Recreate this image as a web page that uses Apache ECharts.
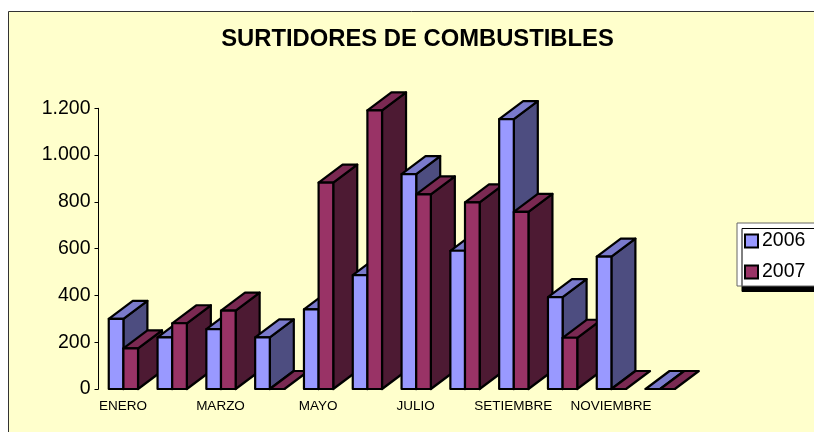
<!DOCTYPE html>
<html>
<head>
  <meta charset="utf-8">
  <title>Surtidores de combustibles</title>
  <script src="https://cdn.jsdelivr.net/npm/echarts@6/dist/echarts.min.js"></script>
  <style>
    html, body { margin: 0; padding: 0; background: #fff; overflow: hidden; }
  </style>
</head>
<body>
<div id="main" style="width: 814px; height: 432px"></div>
<script type="text/javascript">
  var meses = ['ENERO', 'FEBRERO', 'MARZO', 'ABRIL', 'MAYO', 'JUNIO', 'JULIO', 'AGOSTO', 'SETIEMBRE', 'OCTUBRE', 'NOVIEMBRE', 'DICIEMBRE'];
  var v2006 = [300, 221, 256, 221, 340, 487, 919, 591, 1154, 393, 566, 0];
  var v2007 = [174, 281, 335, 0, 882, 1191, 832, 798, 757, 219, 0, 0];

  var font = '"Liberation Sans", Arial, sans-serif';
  // profundidad del efecto 3D, en pixeles
  var depthX = 24;
  var depthY = 18;
  var barShare = 0.3;

  // dibuja una barra con cara frontal, lateral y superior
  function bar3d(serieIdx, colors) {
    return function (params, api) {
      var cat = api.value(0);
      var top = api.coord([cat, api.value(1)]);
      var base = api.coord([cat, 0]);
      var w = api.size([1, 0])[0] * barShare;
      var x0 = top[0] + (serieIdx - 1) * w + 0.5;
      var x1 = x0 + w;
      var border = { stroke: '#000', lineWidth: 2.2, lineJoin: 'round' };
      var z2 = cat * 2 + serieIdx;
      function face(points, fill) {
        return {
          type: 'polygon',
          z2: z2,
          shape: { points: points },
          style: Object.assign({ fill: fill }, border)
        };
      }
      var children = [];
      if (api.value(1) > 0) {
        children.push(face([[x1, top[1]], [x1 + depthX, top[1] - depthY], [x1 + depthX, base[1] - depthY], [x1, base[1]]], colors.side));
      }
      children.push(face([[x0, top[1]], [x0 + depthX, top[1] - depthY], [x1 + depthX, top[1] - depthY], [x1, top[1]]], colors.top));
      children.push(face([[x0, top[1]], [x1, top[1]], [x1, base[1]], [x0, base[1]]], colors.front));
      return { type: 'group', children: children };
    };
  }

  function toData(values) {
    return values.map(function (v, i) { return [i, v]; });
  }

  var myChart = echarts.init(document.getElementById('main'));
  var option = {
    animation: false,
    textStyle: { fontFamily: font },
    graphic: [{
      type: 'rect',
      z: -10,
      silent: true,
      shape: { x: 8.5, y: 11.5, width: 830, height: 440 },
      style: { fill: '#FFFFCC', stroke: '#333', lineWidth: 1 }
    }],
    title: {
      text: 'SURTIDORES DE COMBUSTIBLES',
      left: 412.5,
      top: 22,
      textAlign: 'center',
      textStyle: { fontFamily: font, fontWeight: 'bold', fontSize: 23.8, color: '#000' }
    },
    legend: {
      orient: 'vertical',
      left: 737,
      top: 223,
      padding: [8, 20, 4, 7],
      itemWidth: 13,
      itemHeight: 13,
      itemGap: 11,
      icon: 'rect',
      backgroundColor: '#fff',
      borderColor: '#666',
      borderWidth: 1,
      shadowColor: '#000',
      shadowBlur: 0,
      shadowOffsetX: 5,
      shadowOffsetY: 5.5,
      textStyle: { fontFamily: font, fontSize: 19.5, color: '#000', padding: [0, 0, 0, -1] },
      data: ['2006', '2007']
    },
    grid: { left: 98.5, top: 108.3, width: 585.6, height: 280.7 },
    xAxis: {
      type: 'category',
      data: meses,
      axisLine: { show: false },
      axisTick: { show: false },
      axisLabel: { interval: 1, fontFamily: font, fontSize: 13.5, color: '#000', margin: 10 }
    },
    yAxis: {
      type: 'value',
      min: 0,
      max: 1200,
      interval: 200,
      splitLine: { show: false },
      axisLine: { show: true, lineStyle: { color: '#000', width: 1 } },
      axisTick: { show: true, length: 4, lineStyle: { color: '#000', width: 1 } },
      axisLabel: {
        fontFamily: font,
        fontSize: 19.5,
        color: '#000',
        margin: 8,
        formatter: function (v) { return v >= 1000 ? String(v).replace(/(\d)(\d{3})$/, '$1.$2') : String(v); }
      }
    },
    series: [
      {
        name: '2006',
        type: 'custom',
        clip: false,
        encode: { x: 0, y: 1 },
        itemStyle: { color: '#9999FF', borderColor: '#000', borderWidth: 2 },
        renderItem: bar3d(0, { front: '#9999FF', side: '#4D4D80', top: '#7A7ACC' }),
        data: toData(v2006)
      },
      {
        name: '2007',
        type: 'custom',
        clip: false,
        encode: { x: 0, y: 1 },
        itemStyle: { color: '#993366', borderColor: '#000', borderWidth: 2 },
        renderItem: bar3d(1, { front: '#993366', side: '#4D1A33', top: '#7A2952' }),
        data: toData(v2007)
      }
    ]
  };
  myChart.setOption(option);
</script>
</body>
</html>
